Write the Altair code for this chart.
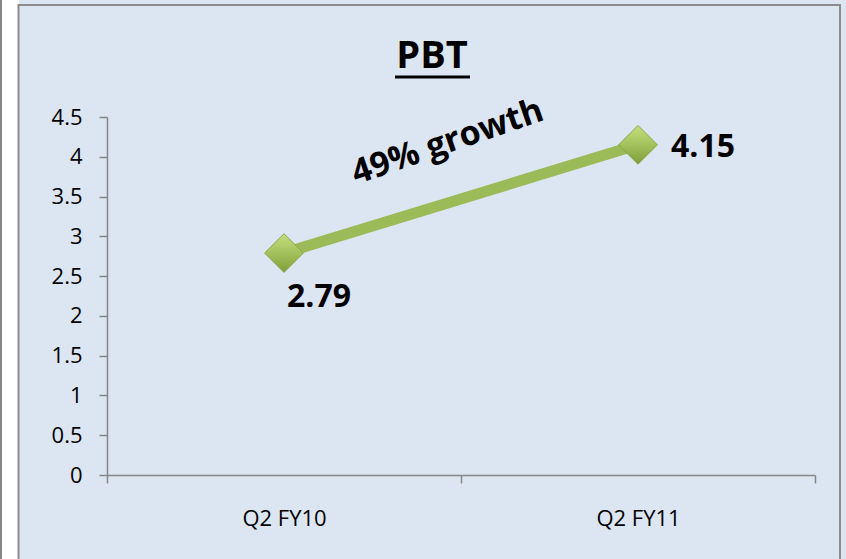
import altair as alt
import pandas as pd

categories = ["Q2 FY10", "Q2 FY11"]
values = [2.79, 4.15]
y_ticks = [0, 0.5, 1, 1.5, 2, 2.5, 3, 3.5, 4, 4.5]
title_text = "PBT"
note_text = "49% growth"

df = pd.DataFrame({"quarter": categories, "pbt": values})
dummy = pd.DataFrame({"a": [0]})

FONT = "Open Sans"
GRAY = "#868686"
GREEN = "#9bbb59"

W, H = 708, 358

x_enc = alt.X(
    "quarter:N",
    sort=categories,
    scale=alt.Scale(type="band", paddingInner=0, paddingOuter=0),
    axis=alt.Axis(
        title=None, labelAngle=0, tickBand="extent", labelFont=FONT,
        labelFontSize=22, labelColor="#000000", labelPadding=25,
        domainColor=GRAY, domainWidth=1.5, tickColor=GRAY, tickWidth=1.5,
        tickSize=8, zindex=2,
    ),
)
y_enc = alt.Y(
    "pbt:Q",
    scale=alt.Scale(domain=[0, 4.5], nice=False, zero=True),
    axis=alt.Axis(
        title=None, values=y_ticks, format="~g", grid=False, labelFont=FONT,
        labelFontSize=22, labelColor="#000000", labelPadding=17,
        domainColor=GRAY, domainWidth=1.5, tickColor=GRAY, tickWidth=1.5,
        tickSize=8, zindex=2,
    ),
)

base = alt.Chart(df)

line = base.mark_line(color=GREEN, strokeWidth=11).encode(x=x_enc, y=y_enc)

points = base.mark_point(
    shape="diamond", filled=True, size=1500, opacity=1,
    fill=alt.Gradient(
        gradient="linear",
        stops=[
            alt.GradientStop(offset=0, color="#c4df7d"),
            alt.GradientStop(offset=0.5, color="#a3c25c"),
            alt.GradientStop(offset=1, color="#7e9e3a"),
        ],
        x1=0, x2=0, y1=0, y2=1,
    ),
    stroke="#86a444", strokeWidth=1,
).encode(x=x_enc, y=y_enc)

lbl1 = base.transform_filter(alt.datum.quarter == categories[0]).mark_text(
    font=FONT, fontSize=32, fontWeight="bold", color="#000000",
    align="center", baseline="alphabetic", dx=35, dy=54,
).encode(x=x_enc, y=y_enc, text=alt.Text("pbt:Q", format=".2f"))

lbl2 = base.transform_filter(alt.datum.quarter == categories[1]).mark_text(
    font=FONT, fontSize=32, fontWeight="bold", color="#000000",
    align="left", baseline="alphabetic", dx=33, dy=12,
).encode(x=x_enc, y=y_enc, text=alt.Text("pbt:Q", format=".2f"))

dchart = alt.Chart(dummy)

left_strip = dchart.mark_rect(fill="#ffffff").encode(
    x=alt.value(-107), x2=alt.value(-88), y=alt.value(-117), y2=alt.value(442)
)
left_line = dchart.mark_rule(color=GRAY, strokeWidth=2).encode(
    x=alt.value(-106), y=alt.value(-117), y2=alt.value(442)
)
frame = dchart.mark_rect(fill=None, stroke="#8c8c8c", strokeWidth=2).encode(
    x=alt.value(-88.5), x2=alt.value(733), y=alt.value(-112), y2=alt.value(470)
)

title = dchart.mark_text(
    font=FONT, fontSize=38, fontWeight="bold", color="#000000",
    align="center", baseline="alphabetic",
).encode(x=alt.value(325), y=alt.value(-49), text=alt.value(title_text))
underline = dchart.mark_rule(color="#000000", strokeWidth=3).encode(
    x=alt.value(288), x2=alt.value(363), y=alt.value(-40)
)

note = dchart.mark_text(
    font=FONT, fontSize=34, fontWeight="bold", color="#000000",
    align="center", baseline="alphabetic", angle=341,
).encode(x=alt.value(344), y=alt.value(35), text=alt.value(note_text))

chart = alt.layer(
    left_strip, left_line, frame, title, underline, note,
    line, points, lbl1, lbl2,
).properties(
    width=W, height=H,
    background="#dce6f2",
    padding={"left": 107, "top": 117, "right": 31, "bottom": 84},
    autosize=alt.AutoSizeParams(type="none"),
).configure_view(stroke=None)

chart.save("out.html", embed_options={"renderer": "svg", "actions": False})
